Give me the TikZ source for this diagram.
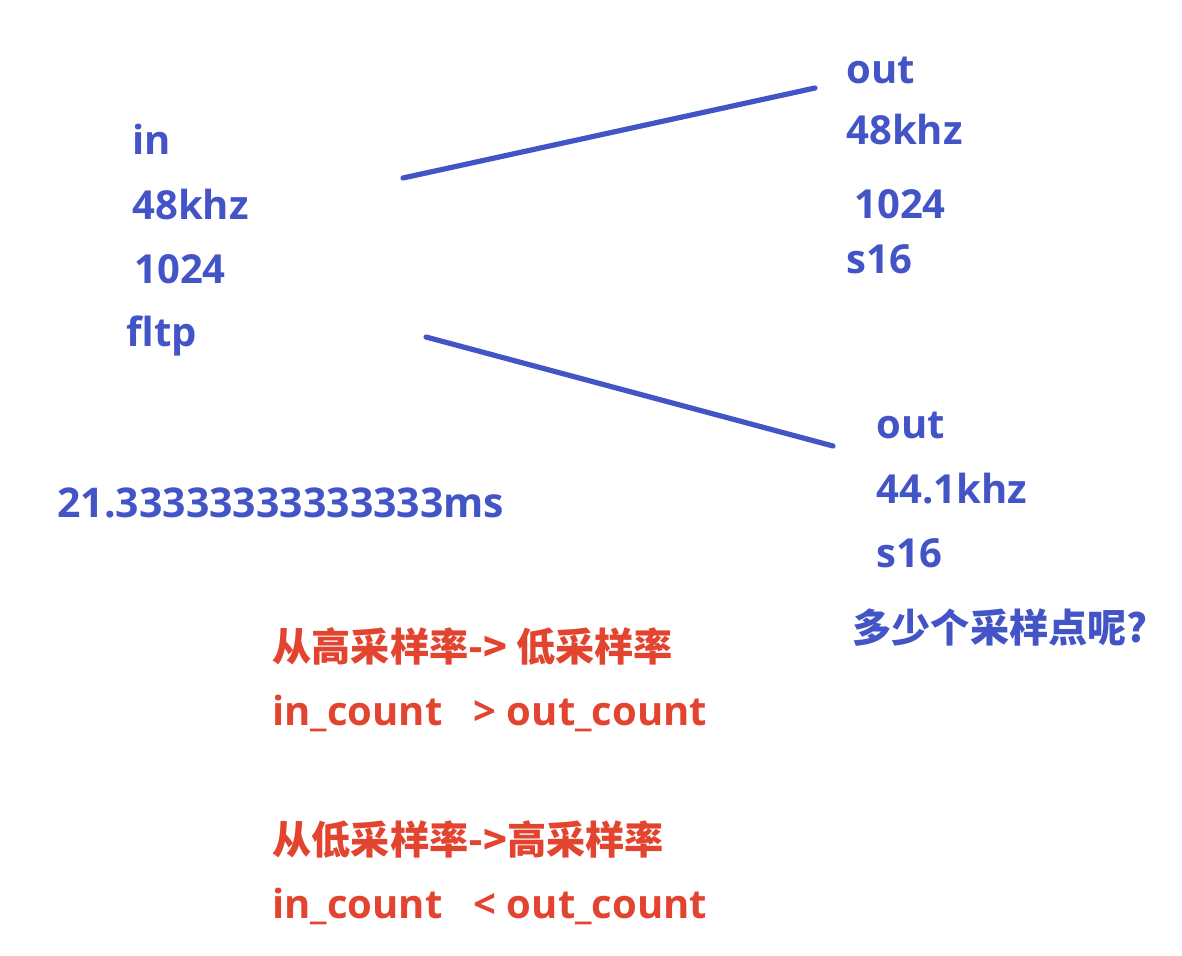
\documentclass[tikz,border=0pt]{standalone}
\usepackage{fontspec}
\setmainfont{Open Sans}
\newfontfamily\cjk{Noto Sans CJK SC}
\usetikzlibrary{positioning}
\definecolor{noteblue}{RGB}{66,84,198}
\definecolor{notered}{RGB}{226,68,48}

\begin{document}
\begin{tikzpicture}[x=0.5pt,y=-0.5pt,line cap=round,line join=round,
    note/.style={anchor=base west,inner sep=0pt,text=noteblue,
      font=\fontsize{20}{24}\selectfont\bfseries},
    cjknote/.style={note,font=\fontsize{19.6}{23}\selectfont\cjk\bfseries},
    rule/.style={note,text=notered},
    cjkrule/.style={cjknote,text=notered},
    wire/.style={noteblue,line width=2.6pt}]
  \useasboundingbox (0,0) rectangle (1182,956);

  % --- input side ---
  \node[note] (in)     at (132,155) {in};
  \node[note] (inrate) at (132,220) {48khz};
  \node[note] (insize) at (134,284) {1024};
  \node[note] (infmt)  at (126,347) {fltp};
  \node[note,font=\fontsize{20.5}{24}\selectfont\bfseries]
    (intime) at (57,517) {21.33333333333333ms};

  % --- first output: same rate ---
  \node[note] (outa)     at (846,84)  {out};
  \node[note] (outarate) at (846,145) {48khz};
  \node[note] (outasize) at (854,219) {1024};
  \node[note] (outafmt)  at (846,274) {s16};

  % --- second output: lower rate ---
  \node[note] (outb)     at (876,439) {out};
  \node[note] (outbrate) at (876,503) {44.1khz};
  \node[note] (outbfmt)  at (876,567) {s16};
  \node[cjknote] (outbask) at (852,642) {多少个采样点呢?};

  % --- lines from in to out ---
  \coordinate (tailA) at (403,178);
  \coordinate (headA) at (815,88);
  \coordinate (tailB) at (426,337);
  \coordinate (headB) at (833,446);
  \draw[wire] (tailA) -- (headA);
  \draw[wire] (tailB) -- (headB);

  % --- sample count rules ---
  \node[cjkrule] (down)      at (272,661) {从高采样率-> 低采样率};
  \node[rule]    (downcount) at (272,725) {in\_count\ \ \ > out\_count};
  \node[cjkrule] (up)        at (272,854) {从低采样率->高采样率};
  \node[rule]    (upcount)   at (272,918) {in\_count\ \ \ < out\_count};
\end{tikzpicture}
\end{document}
